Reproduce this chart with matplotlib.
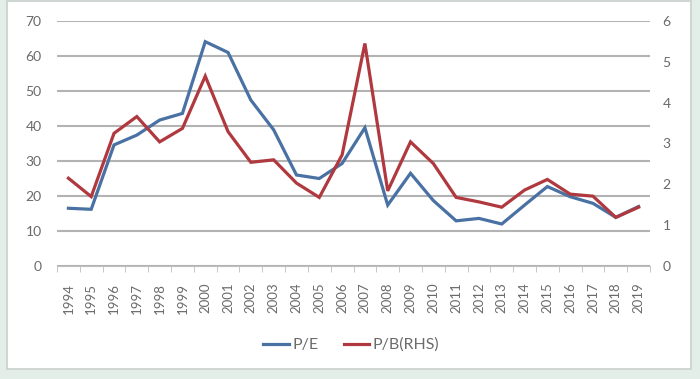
import matplotlib
matplotlib.use("Agg")
import matplotlib.pyplot as plt
from matplotlib.patches import Rectangle
from matplotlib.lines import Line2D
import numpy as np

plt.rcParams['font.family'] = ['Lato', 'DejaVu Sans']

years = [str(y) for y in range(1994, 2020)]
pe = [16.5, 16.2, 34.6, 37.4, 41.7, 43.6, 64.1, 61.0, 47.4, 38.9, 26.0, 25.0, 29.3,
      39.5, 17.4, 26.5, 18.7, 12.9, 13.6, 12.0, 17.4, 22.7, 19.8, 17.9, 13.9, 17.0]
pb = [2.15, 1.70, 3.25, 3.66, 3.04, 3.37, 4.65, 3.29, 2.54, 2.60, 2.03, 1.68, 2.72,
      5.45, 1.84, 3.04, 2.51, 1.68, 1.57, 1.44, 1.86, 2.12, 1.76, 1.71, 1.19, 1.44]
left_ticks = [0, 10, 20, 30, 40, 50, 60, 70]
right_ticks = [0, 1, 2, 3, 4, 5, 6]

blue = '#4A71A3'
red = '#B0393F'
txt = '#6a6a6a'
grid = '#b3b3b3'

fig = plt.figure(figsize=(7.0, 3.79), dpi=100)
fig.patch.set_facecolor('#e3eee9')
fig.patches.append(Rectangle((7/700, 1 - 369/379), (691-7)/700, (369-1)/379,
                             transform=fig.transFigure, facecolor='white',
                             edgecolor='#c8d0cc', linewidth=1.2, zorder=-10))

ax = fig.add_axes([57/700, 1 - 266/379, (650-57)/700, (266-21)/379])
ax.patch.set_visible(False)
ax2 = ax.twinx()
ax2.patch.set_visible(False)

x = np.arange(len(years))
ax.set_xlim(-0.5, len(years) - 0.5)
ax.set_ylim(0, 70)
ax2.set_ylim(0, 6)

ax.set_yticks(left_ticks)
ax2.set_yticks(right_ticks)
ax.set_yticklabels([str(t) for t in left_ticks])
ax2.set_yticklabels([str(t) for t in right_ticks])
ax.grid(True, axis='y', color=grid, linewidth=1.5, linestyle='-', alpha=1.0)
ax.set_axisbelow(True)

ax.plot(x, pe, color=blue, lw=2.3, zorder=3, solid_joinstyle='miter')
ax2.plot(x, pb, color=red, lw=2.3, zorder=3, solid_joinstyle='miter')

ax.set_xticks(x)
ax.set_xticklabels(years, rotation=90, fontsize=9.5, color=txt)
ax.set_xticks(np.arange(-0.5, len(years) + 0.5, 1), minor=True)
ax.tick_params(axis='x', which='major', length=0, pad=12)
ax.tick_params(axis='x', which='minor', length=4, color='#bdbdbd', direction='out')
ax.tick_params(axis='y', length=0, pad=11, labelsize=10, labelcolor=txt)
ax2.tick_params(axis='y', length=0, pad=9, labelsize=10, labelcolor=txt)

for a in (ax, ax2):
    for s in a.spines.values():
        s.set_visible(False)
ax.spines['bottom'].set_visible(True)
ax.spines['bottom'].set_color('#bdbdbd')

handles = [Line2D([], [], color=blue, lw=2.3), Line2D([], [], color=red, lw=2.3)]
fig.legend(handles, ['P/E', 'P/B(RHS)'], loc='center', bbox_to_anchor=(0.502, 1 - 345/379),
           ncol=2, frameon=False, fontsize=11.5, labelcolor=txt, handlelength=1.6,
           handletextpad=0.2, columnspacing=1.6)

fig.savefig('out.png', dpi=100, facecolor=fig.get_facecolor())
